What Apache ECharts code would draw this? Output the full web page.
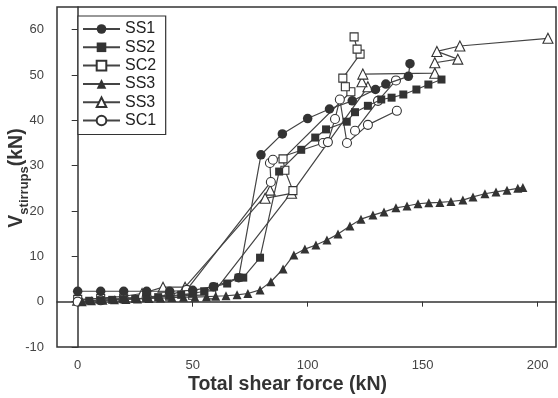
<!DOCTYPE html>
<html>
<head>
<meta charset="utf-8">
<script src="https://cdn.jsdelivr.net/npm/echarts@6/dist/echarts.min.js"></script>
<style>
  html, body { margin: 0; padding: 0; background: #fff; }
  #chart { width: 558px; height: 398px; }
</style>
</head>
<body>
<div id="chart"></div>
<script>
// values: [total shear force kN, V stirrups kN]
const ss1 = [[0, 2.3], [10, 2.3], [20, 2.3], [30, 2.3], [40, 2.3], [50, 2.5], [59, 3.3], [70, 5.3],
  [79.7, 32.4], [89, 37], [100, 40.4], [109.5, 42.5], [119.4, 44.3], [129.5, 46.8], [134, 48],
  [143.8, 49.7], [144.5, 52.5]]
const ss2 = [[5, 0.2], [10, 0.3], [15, 0.4], [20, 0.5], [25, 0.6], [30, 0.8], [35, 1], [40, 1.3],
  [45, 1.5], [50, 1.8], [55, 2.3], [59.3, 3.3], [65, 4], [70, 5.3], [72, 5.3], [79.3, 9.7],
  [87.6, 28.7], [97.2, 33.5], [103.3, 36.2], [108, 38], [117, 39.7], [120.6, 41.8], [126.2, 43.2],
  [132, 44.6], [136.5, 45], [141.6, 45.7], [147.3, 46.8], [152.5, 47.9], [158.2, 49]]
const sc2 = [[0, 0.5], [10, 0.7], [20, 0.8], [30, 1], [40, 1.2], [50, 1.4], [58.3, 1.5],
  [93.6, 24.5], [90.1, 29], [89.3, 31.5], [118.8, 46.3], [116.4, 47.4], [115.3, 49.3],
  [122.8, 54.6], [121.5, 55.7], [120.2, 58.4]]
const ss3Solid = [[2, 0], [6, 0.2], [11, 0.3], [16, 0.4], [21, 0.5], [26, 0.6], [31, 0.7], [36, 0.8],
  [41, 0.9], [46, 1], [51, 1], [56, 1.1], [60, 1.2], [64.5, 1.3], [69.3, 1.5], [74, 1.8],
  [79.3, 2.6], [84, 4.4], [89.3, 7.2], [94, 10.3], [98.8, 11.6], [103.6, 12.5], [108.4, 13.6],
  [113.2, 14.9], [118.4, 16.7], [123.2, 18.2], [128.4, 19.1], [133.2, 19.8], [138.4, 20.7],
  [143.2, 21.1], [148, 21.6], [152.7, 21.8], [157.5, 21.9], [162.3, 22.1], [167.5, 22.4],
  [171.9, 23.1], [177.1, 23.8], [181.9, 24.2], [186.7, 24.6], [191.4, 25], [193.6, 25.2]]
const ss3Open = [[0, 0.3], [10, 0.8], [20, 1.2], [28, 1.8], [37.1, 3.2], [46.7, 3.2], [83.7, 24.6],
  [81.5, 22.8], [93, 23.9], [126.2, 47.4], [123.6, 48.5], [124, 50.2], [155.3, 50.4],
  [155.3, 52.7], [165.3, 53.5], [156.2, 55.2], [166.2, 56.4], [204.5, 58.1]]
const sc1 = [[0, 0], [10, 0.3], [20, 0.6], [30, 1], [40, 1.5], [47.4, 2.6], [84, 26.4], [83.6, 30.6],
  [84.9, 31.3], [106.7, 35], [108.8, 35.2], [111.9, 40.3], [114, 44.6], [117.1, 35], [126.2, 39],
  [138.8, 42.1], '-', [120.6, 37.7], [130.6, 44.3], [138.4, 48.8]]

const xTicks = [0, 50, 100, 150, 200]
const yTicks = [-10, 0, 10, 20, 30, 40, 50, 60]

const ink = '#333'
const font = 'Liberation Sans'

function makeSeries(name, data, symbol, filled, size) {
  return {
    name: name,
    type: 'line',
    data: data,
    symbol: symbol,
    symbolSize: size,
    connectNulls: false,
    lineStyle: { color: '#444', width: 1.2 },
    itemStyle: {
      color: filled ? ink : '#fff',
      borderColor: ink,
      borderWidth: filled ? 0 : 1.1,
    },
    emphasis: { disabled: true },
    z: filled ? 3 : 2,
  }
}

const myChart = echarts.init(document.getElementById('chart'))
myChart.setOption({
  animation: false,
  backgroundColor: '#fff',
  grid: {
    left: 57,
    right: 2,
    top: 7,
    bottom: 51,
    show: true,
    borderColor: ink,
    borderWidth: 1.5,
    outerBoundsMode: 'none',
  },
  legend: {
    orient: 'vertical',
    left: 78,
    top: 16,
    padding: [5, 6, 6, 4],
    itemGap: 2.3,
    itemWidth: 37,
    itemHeight: 12,
    borderColor: ink,
    borderWidth: 1.2,
    backgroundColor: '#fff',
    textStyle: { fontSize: 16, fontFamily: font, color: '#222', lineHeight: 16 },
    data: ['SS1', 'SS2', 'SC2', 'SS3', 'SS3 ', 'SC1'],
  },
  xAxis: {
    type: 'value',
    min: -9,
    max: 208,
    name: 'Total shear force (kN)',
    nameLocation: 'middle',
    nameGap: 28,
    nameMoveOverlap: false,
    nameTextStyle: {
      fontSize: 19.5,
      fontWeight: 'bold',
      fontFamily: font,
      color: '#333',
      padding: [0, 38, 0, 0],
    },
    axisLine: { lineStyle: { color: ink, width: 1.5 } },
    axisTick: { customValues: xTicks, length: 5, lineStyle: { color: ink } },
    axisLabel: { customValues: xTicks, margin: 12, fontSize: 13, fontFamily: font, color: '#444' },
    splitLine: { show: false },
  },
  yAxis: {
    type: 'value',
    min: -10,
    max: 65,
    name: '{v|V}{s|stirrups}{v|(kN)}',
    nameLocation: 'middle',
    nameGap: 26,
    nameMoveOverlap: false,
    nameTextStyle: {
      fontFamily: font,
      color: '#333',
      padding: [0, 2, 0, 0],
      rich: {
        v: { fontSize: 19.5, fontWeight: 'bold', fontFamily: font, color: '#333' },
        s: { fontSize: 13, fontWeight: 'bold', fontFamily: font, color: '#333', padding: [16, 0, 0, 0] },
      },
    },
    axisLine: { show: true, lineStyle: { color: ink, width: 1.5 } },
    axisTick: { show: true, customValues: yTicks, length: 6, lineStyle: { color: ink } },
    axisLabel: { customValues: yTicks, margin: 13, fontSize: 13, fontFamily: font, color: '#444' },
    splitLine: { show: false },
  },
  series: [
    makeSeries('SS3', ss3Solid, 'triangle', true, 9),
    makeSeries('SS3 ', ss3Open, 'triangle', false, 10),
    makeSeries('SC2', sc2, 'rect', false, 8),
    makeSeries('SC1', sc1, 'circle', false, 9),
    makeSeries('SS2', ss2, 'rect', true, 8),
    makeSeries('SS1', ss1, 'circle', true, 9.5),
  ],
})
</script>
</body>
</html>
